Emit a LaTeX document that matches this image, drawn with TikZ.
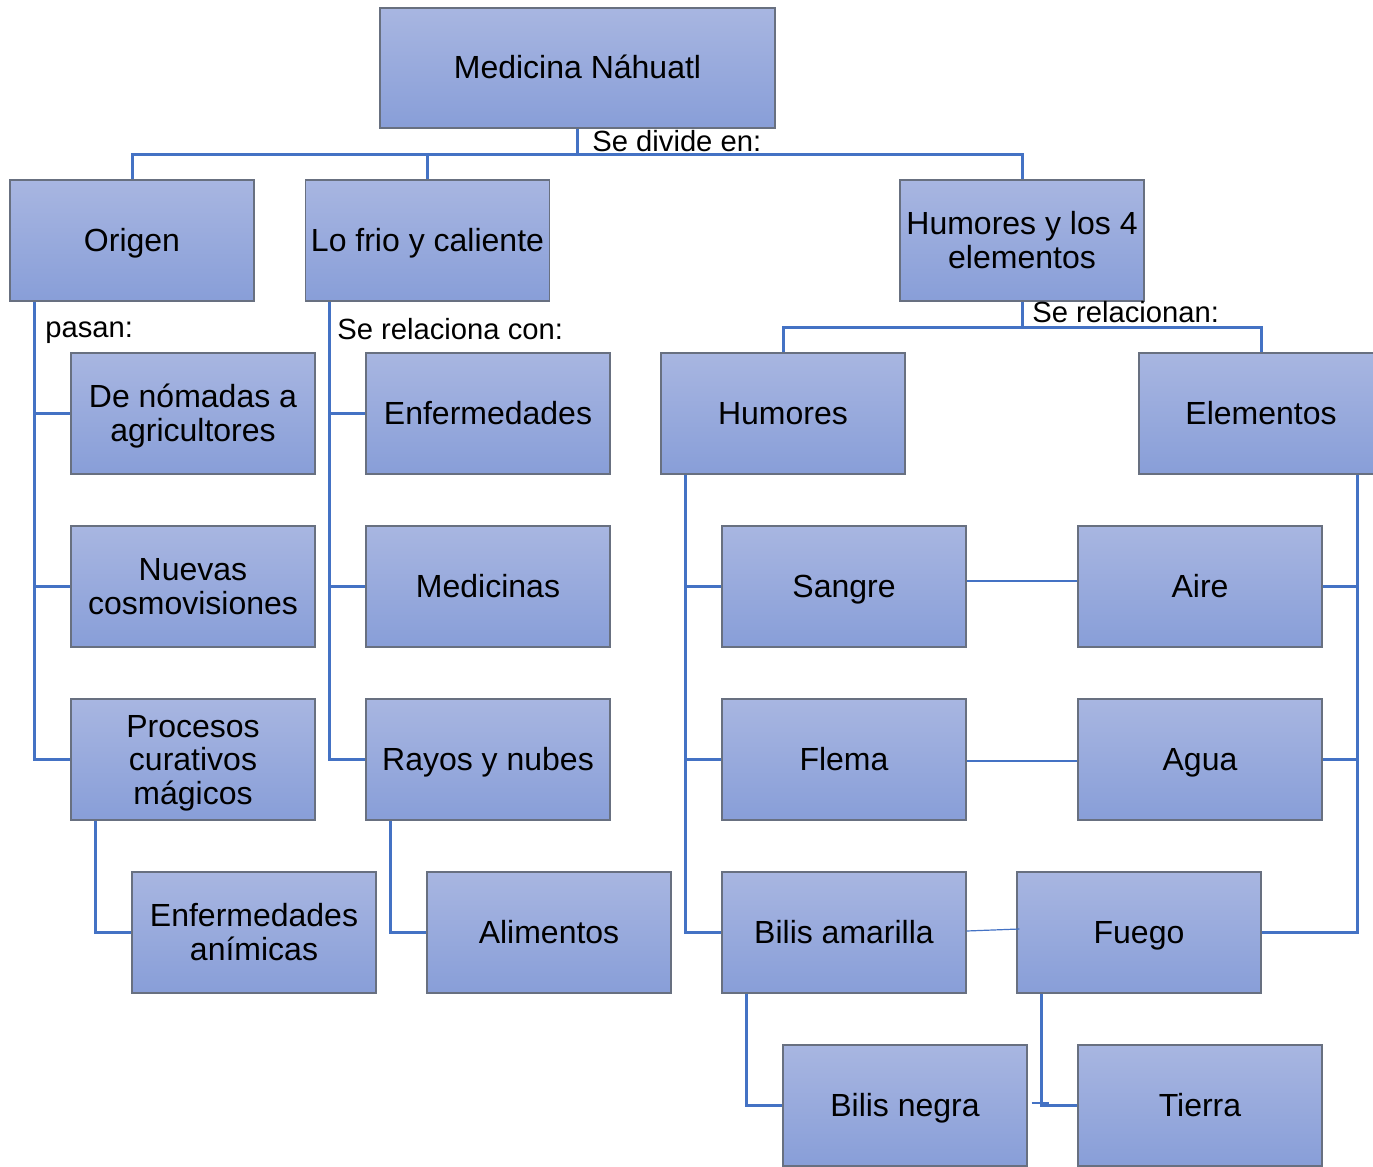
\documentclass[tikz,border=0pt]{standalone}
\usepackage{fontspec}
\setmainfont{Liberation Sans}
\usetikzlibrary{calc}
\definecolor{btop}{HTML}{A8B6E1}
\definecolor{bbot}{HTML}{889ED8}
\definecolor{bline}{HTML}{687080}
\definecolor{linkc}{HTML}{4472C4}
\newcommand{\boxstrut}{\rule[-4pt]{0pt}{18.5pt}}
\newcommand{\mtop}{\rule{0pt}{15pt}}
\begin{document}
\begin{tikzpicture}[x=0.5pt,y=-0.5pt,
  box/.style={rectangle, draw=bline, line width=0.7pt, top color=btop, bottom color=bbot,
    minimum width=122pt, minimum height=60.5pt, align=center, inner sep=0pt,
    font=\fontsize{16}{16.75}\selectfont,
    execute at begin node=\boxstrut, execute at end node=\boxstrut},
  link/.style={draw=linkc, line width=1.5pt},
  thinlink/.style={draw=linkc, line width=0.6pt},
  lab/.style={anchor=base west, inner sep=0pt, font=\fontsize{14.6}{16}\selectfont}]
\useasboundingbox (0,0) rectangle (1373,1167);

% boxes
\node[box, minimum width=197.5pt, minimum height=60pt] (med) at (577.5,68) {Medicina Náhuatl};
\node[box] (origen) at (132,240.5) {Origen};
\node[box] (lofrio) at (427.5,240.5) {Lo frio y caliente};
\node[box] (humo4) at (1022,240.5) {\mtop Humores y los 4\\elementos};
\node[box] (nomadas) at (193,413.5) {\mtop De nómadas a\\agricultores};
\node[box] (nuevas) at (193,586.5) {\mtop Nuevas\\cosmovisiones};
\node[box] (procesos) at (193,759.5) {\mtop Procesos\\curativos\\mágicos};
\node[box] (animicas) at (254,932.5) {\mtop Enfermedades\\anímicas};
\node[box] (enf) at (488,413.5) {Enfermedades};
\node[box] (medicinas) at (488,586.5) {Medicinas};
\node[box] (rayos) at (488,759.5) {Rayos y nubes};
\node[box] (alimentos) at (549,932.5) {Alimentos};
\node[box] (humores) at (783,413.5) {Humores};
\node[box] (elementos) at (1261,413.5) {Elementos};
\node[box] (sangre) at (844,586.5) {Sangre};
\node[box] (aire) at (1200,586.5) {Aire};
\node[box] (flema) at (844,759.5) {Flema};
\node[box] (agua) at (1200,759.5) {Agua};
\node[box] (bilisam) at (844,932.5) {Bilis amarilla};
\node[box] (fuego) at (1139,932.5) {Fuego};
\node[box] (bilisn) at (905,1105.5) {Bilis negra};
\node[box] (tierra) at (1200,1105.5) {Tierra};

% main tree
\coordinate (hub) at ($(med.south)+(0,26)$);
\draw[link] (med.south) -- (hub);
\draw[link] (origen.north) |- (hub) -| (humo4.north);
\draw[link] (lofrio.north) -- (lofrio.north |- hub);
\node[lab] (l1) at (592,151) {Se divide en:};

% Origen branch
\draw[link] ($(origen.south west)+(25,0)$) coordinate (o1) |- (procesos.west);
\draw[link] (nomadas.west) -- (nomadas.west -| o1);
\draw[link] (nuevas.west) -- (nuevas.west -| o1);
\draw[link] ($(procesos.south west)+(25,0)$) |- (animicas.west);
\node[lab] (l2) at (45,337) {pasan:};

% Lo frio branch
\draw[link] ($(lofrio.south west)+(24.5,0)$) coordinate (f1) |- (rayos.west);
\draw[link] (enf.west) -- (enf.west -| f1);
\draw[link] (medicinas.west) -- (medicinas.west -| f1);
\draw[link] ($(rayos.south west)+(25,0)$) |- (alimentos.west);
\node[lab] (l3) at (337,339) {Se relaciona con:};

% Humores y los 4 elementos
\coordinate (hub2) at ($(humo4.south)+(0,26)$);
\draw[link] (humo4.south) -- (hub2);
\draw[link] (humores.north) |- (hub2) -| (elementos.north);
\node[lab] (l4) at (1032,322) {Se relacionan:};

% Humores branch
\draw[link] ($(humores.south west)+(25,0)$) coordinate (h1) |- (bilisam.west);
\draw[link] (sangre.west) -- (sangre.west -| h1);
\draw[link] (flema.west) -- (flema.west -| h1);
\draw[link] ($(bilisam.south west)+(25,0)$) |- (bilisn.west);

% Elementos branch
\draw[link] ($(elementos.south west)+(219,0)$) coordinate (e1) |- (fuego.east);
\draw[link] (aire.east) -- (aire.east -| e1);
\draw[link] (agua.east) -- (agua.east -| e1);
\draw[link] ($(fuego.south west)+(25,0)$) |- (tierra.west);

% thin relations
\draw[thinlink] ($(sangre.east)+(0,-5.5)$) -- ($(aire.west)+(0,-5.5)$);
\draw[thinlink] ($(flema.east)+(0,1.5)$) -- ($(agua.west)+(0,1.5)$);
\draw[thinlink] ($(bilisam.east)+(0,-1.5)$) -- ($(fuego.west)+(3,-3.5)$);
\draw[thinlink] ($(bilisn.east)+(4,-2.5)$) -- ($(bilisn.east)+(21,-2.5)$);
\end{tikzpicture}
\end{document}
